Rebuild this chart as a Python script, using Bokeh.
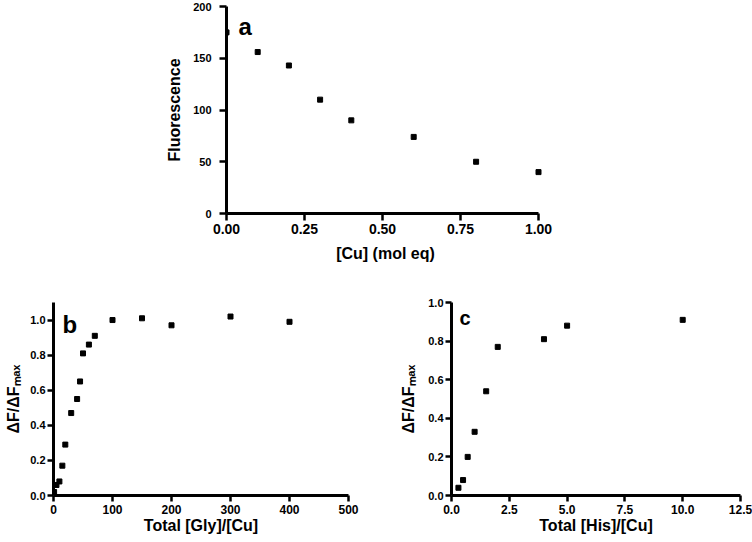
import math
from bokeh.plotting import figure
from bokeh.models import Range1d, FixedTicker, PrintfTickFormatter, Label, Spacer
from bokeh.layouts import column, row
from bokeh.embed import file_html
from bokeh.resources import INLINE

FONT = "Liberation Sans"

# ---- data ----
cu_eq = [0.0, 0.1, 0.2, 0.3, 0.4, 0.6, 0.8, 1.0]
fluorescence = [175, 156, 143, 110, 90, 74, 50, 40]

gly_ratio = [1, 5, 10, 15, 20, 30, 40, 45, 50, 60, 70, 100, 150, 200, 300, 400]
gly_dF = [0.02, 0.06, 0.08, 0.17, 0.29, 0.47, 0.55, 0.65, 0.81, 0.86, 0.91, 1.00, 1.01, 0.97, 1.02, 0.99]

his_ratio = [0.3, 0.5, 0.7, 1.0, 1.5, 2.0, 4.0, 5.0, 10.0]
his_dF = [0.04, 0.08, 0.20, 0.33, 0.54, 0.77, 0.81, 0.88, 0.91]

a_xticks = [0, 0.25, 0.5, 0.75, 1.0]
a_yticks = [0, 50, 100, 150, 200]
b_xticks = [0, 100, 200, 300, 400, 500]
b_yticks = [0, 0.2, 0.4, 0.6, 0.8, 1.0]
c_xticks = [0, 2.5, 5.0, 7.5, 10.0, 12.5]
c_yticks = [0, 0.2, 0.4, 0.6, 0.8, 1.0]

DF_LABEL = "ΔF/ΔFₘₐₓ"


def make_fig(w, h, l, r, t, b, xr, yr, xb, yb):
    p = figure(width=w, height=h, min_border_left=l, min_border_right=r,
               min_border_top=t, min_border_bottom=b,
               x_range=Range1d(*xr), y_range=Range1d(*yr),
               output_backend="svg", toolbar_location=None)
    p.outline_line_color = None
    p.xgrid.grid_line_color = None
    p.ygrid.grid_line_color = None
    p.background_fill_color = "white"
    p.border_fill_color = "white"
    p.xaxis.bounds = xb
    p.yaxis.bounds = yb
    for ax in (p.xaxis, p.yaxis):
        ax.axis_line_color = "black"
        ax.axis_line_width = 3
        ax.major_tick_line_color = "black"
        ax.major_tick_line_width = 2.5
        ax.major_tick_in = 0
        ax.minor_tick_line_color = None
        ax.major_label_text_font = FONT
        ax.major_label_text_font_style = "bold"
        ax.major_label_text_color = "black"
        ax.axis_label_text_font = FONT
        ax.axis_label_text_font_style = "bold"
        ax.axis_label_text_color = "black"
        ax.axis_label_text_font_size = "16px"
    return p


def lab(p, x, y, text, size):
    p.add_layout(Label(x=x, y=y, text=text, text_font=FONT,
                       text_font_style="bold", text_font_size=size, text_color="black",
                       text_align="left", text_baseline="alphabetic"))


# ---- panel a ----
pa = make_fig(408, 276, 76, 14, 6, 63, (0, 1.0 + 6 / 312), (0, 200), (0, 1.0), (0, 200))
pa.scatter(cu_eq, fluorescence, marker="square", size=5, color="black")
pa.xaxis.ticker = FixedTicker(ticks=a_xticks)
pa.yaxis.ticker = FixedTicker(ticks=a_yticks)
pa.xaxis.formatter = PrintfTickFormatter(format="%.2f")
pa.xaxis.major_label_text_font_size = "14px"
pa.yaxis.major_label_text_font_size = "11px"
pa.xaxis.major_tick_out = 7
pa.yaxis.major_tick_out = 7
pa.xaxis.major_label_standoff = 3
pa.yaxis.major_label_standoff = 8
pa.xaxis.axis_label = "[Cu] (mol eq)"
pa.yaxis.axis_label = "Fluorescence"
pa.xaxis.axis_label_standoff = 8
pa.yaxis.axis_label_standoff = 7
lab(pa, 0.0385, 180.7, "a", "24px")

# ---- panel b ----
pb = make_fig(380, 266, 53, 32, 21, 47, (0, 500), (0, 1.1), (0, 500), (0, 1.1))
pb.scatter(gly_ratio, gly_dF, marker="square", size=5, color="black")
pb.xaxis.ticker = FixedTicker(ticks=b_xticks)
pb.yaxis.ticker = FixedTicker(ticks=b_yticks)
pb.yaxis.formatter = PrintfTickFormatter(format="%.1f")
pb.xaxis.major_label_text_font_size = "12px"
pb.yaxis.major_label_text_font_size = "11px"
pb.xaxis.major_tick_out = 6
pb.yaxis.major_tick_out = 6
pb.xaxis.major_label_standoff = 3
pb.yaxis.major_label_standoff = 2
pb.xaxis.axis_label = "Total [Gly]/[Cu]"
pb.xaxis.axis_label_standoff = 0
pb.yaxis.axis_label = DF_LABEL
pb.yaxis.axis_label_text_font_size = "16px"
pb.yaxis.axis_label_standoff = 5
lab(pb, 15.3, 0.972, "b", "24px")

# ---- panel c ----
pc = make_fig(372, 266, 71, 12, 26, 47, (0, 12.5), (0, 1.0), (0, 12.5), (0, 1.0))
pc.scatter(his_ratio, his_dF, marker="square", size=5, color="black")
pc.xaxis.ticker = FixedTicker(ticks=c_xticks)
pc.yaxis.ticker = FixedTicker(ticks=c_yticks)
pc.xaxis.formatter = PrintfTickFormatter(format="%.1f")
pc.yaxis.formatter = PrintfTickFormatter(format="%.1f")
pc.xaxis.major_label_text_font_size = "12px"
pc.yaxis.major_label_text_font_size = "11px"
pc.xaxis.major_tick_out = 6
pc.yaxis.major_tick_out = 6
pc.xaxis.major_label_standoff = 3
pc.yaxis.major_label_standoff = 2
pc.xaxis.axis_label = "Total [His]/[Cu]"
pc.xaxis.axis_label_standoff = 0
pc.yaxis.axis_label = DF_LABEL
pc.yaxis.axis_label_text_font_size = "16px"
pc.yaxis.axis_label_standoff = 8
lab(pc, 0.346, 0.922, "c", "20px")

layout = column(row(Spacer(width=150, height=276), pa), row(pb, pc))

open("out.html", "w").write(file_html(layout, INLINE))
